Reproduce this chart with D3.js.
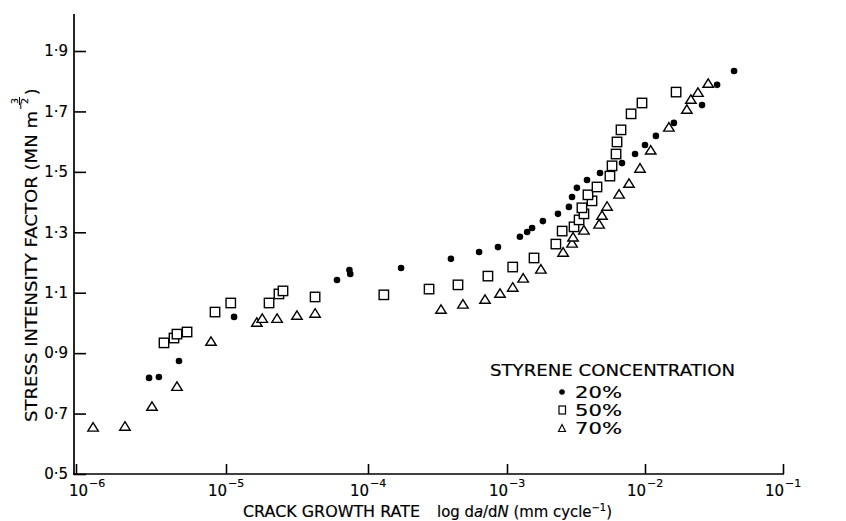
<!DOCTYPE html>
<html>
<head>
<meta charset="utf-8">
<script src="https://cdn.jsdelivr.net/npm/d3@7"></script>
<style>
  body { margin: 0; background: #fff; }
  text { font-family: "DejaVu Sans", sans-serif; fill: #000; stroke: #000; stroke-width: 0.18; }
</style>
</head>
<body>
<div id="chart"></div>
<script>
// crack growth rate da/dN (mm/cycle) and stress intensity factor K (MN m^-3/2)
const rate20 = [3.07e-6, 3.57e-6, 4.86e-6, 1.14e-5, 6.05e-5, 7.4e-5, 7.5e-5, 1.73e-4, 3.95e-4, 6.30e-4, 8.61e-4,
    1.24e-3, 1.40e-3, 1.52e-3, 1.82e-3, 2.34e-3, 2.81e-3, 2.96e-3, 3.21e-3, 3.80e-3, 4.72e-3, 6.81e-3, 8.47e-3,
    1.00e-2, 1.20e-2, 1.62e-2, 2.59e-2, 3.33e-2, 4.42e-2];
const k20 = [0.818, 0.821, 0.874, 1.020, 1.142, 1.175, 1.162, 1.182, 1.212, 1.235, 1.251,
    1.285, 1.301, 1.314, 1.337, 1.361, 1.384, 1.417, 1.447, 1.473, 1.496, 1.529, 1.559,
    1.589, 1.619, 1.662, 1.721, 1.788, 1.834];

const rate50 = [3.86e-6, 4.50e-6, 4.71e-6, 5.50e-6, 8.45e-6, 1.08e-5, 2.01e-5, 2.36e-5, 2.52e-5, 4.24e-5,
    1.30e-4, 2.75e-4, 4.44e-4, 7.29e-4, 1.10e-3, 1.57e-3, 2.26e-3, 2.51e-3, 3.06e-3, 3.33e-3, 3.61e-3,
    3.49e-3, 4.13e-3, 3.86e-3, 4.49e-3, 5.57e-3, 5.77e-3, 6.17e-3, 6.27e-3, 6.70e-3, 7.93e-3, 9.51e-3, 1.68e-2];
const k50 = [0.934, 0.950, 0.963, 0.970, 1.036, 1.066, 1.066, 1.096, 1.106, 1.086,
    1.093, 1.112, 1.126, 1.155, 1.185, 1.215, 1.261, 1.304, 1.318, 1.341, 1.361,
    1.381, 1.404, 1.424, 1.450, 1.486, 1.520, 1.559, 1.599, 1.639, 1.692, 1.728, 1.764];

const rate70 = [1.30e-6, 2.12e-6, 3.21e-6, 4.71e-6, 7.94e-6, 1.65e-5, 1.80e-5, 2.29e-5, 3.16e-5, 4.24e-5,
    3.35e-4, 4.82e-4, 6.95e-4, 8.91e-4, 1.10e-3, 1.31e-3, 1.76e-3, 2.55e-3, 2.96e-3, 3.01e-3, 3.61e-3,
    4.65e-3, 4.88e-3, 5.31e-3, 6.49e-3, 7.66e-3, 9.20e-3, 1.10e-2, 1.49e-2, 2.01e-2, 2.15e-2, 2.42e-2, 2.87e-2];
const k70 = [0.656, 0.659, 0.725, 0.791, 0.940, 1.003, 1.016, 1.016, 1.026, 1.033,
    1.046, 1.063, 1.079, 1.099, 1.119, 1.149, 1.179, 1.235, 1.265, 1.285, 1.308,
    1.328, 1.357, 1.387, 1.427, 1.463, 1.513, 1.573, 1.649, 1.708, 1.741, 1.764, 1.794];

const xTicks = [1e-6, 1e-5, 1e-4, 1e-3, 1e-2, 1e-1];
const xTickExp = ['\u22126', '\u22125', '\u22124', '\u22123', '\u22122', '\u22121'];
const yTicks = [0.5, 0.7, 0.9, 1.1, 1.3, 1.5, 1.7, 1.9];
const legendLabels = ['20%', '50%', '70%'];

const width = 846, height = 521;
const svg = d3.select('#chart').append('svg')
    .attr('width', width)
    .attr('height', height);

// the printed decades are not quite even, so each decade gets its own span
const x = d3.scaleLog()
    .domain(xTicks)
    .range([76, 226, 368, 507, 645, 783]);
const y = d3.scaleLinear()
    .domain([0.5, 1.9])
    .range([474, 51]);

// axis lines
svg.append('line').attr('x1', 74).attr('x2', 74).attr('y1', 14).attr('y2', 474.5)
    .attr('stroke', '#000').attr('stroke-width', 1.7);
svg.append('line').attr('x1', 73).attr('x2', 784).attr('y1', 474).attr('y2', 474)
    .attr('stroke', '#000').attr('stroke-width', 1.7);

const xAxis = svg.append('g')
    .attr('transform', 'translate(0,474)')
    .call(d3.axisBottom(x).tickValues(xTicks).tickFormat('').tickSizeInner(-10).tickSizeOuter(0));
xAxis.select('.domain').remove();
xAxis.selectAll('line').attr('stroke-width', 1.6);

const yAxis = svg.append('g')
    .attr('transform', 'translate(74,0)')
    .call(d3.axisLeft(y).tickValues(yTicks).tickSizeInner(-12).tickSizeOuter(0).tickPadding(6)
        .tickFormat(d => d3.format('.1f')(d).replace('.', '\u00b7')));
yAxis.select('.domain').remove();
yAxis.selectAll('line').attr('stroke-width', 1.6);
yAxis.selectAll('text').attr('font-size', 15).attr('font-family', '"DejaVu Sans", sans-serif');

// x tick labels: 10 with a raised exponent
xTicks.forEach((t, i) => {
    const px = x(t) + (i === 0 ? 12 : 1);
    svg.append('text').attr('x', px).attr('y', 496)
        .attr('text-anchor', 'end').attr('font-size', 15).text('10');
    svg.append('text').attr('x', px + 1).attr('y', 487)
        .attr('font-size', 11).text(xTickExp[i]);
});

// x title
svg.append('text').attr('x', 243).attr('y', 517).attr('font-size', 15)
    .attr('textLength', 177).attr('lengthAdjust', 'spacingAndGlyphs')
    .text('CRACK GROWTH RATE');
const xt = svg.append('text').attr('x', 437).attr('y', 517).attr('font-size', 15)
    .attr('textLength', 175).attr('lengthAdjust', 'spacingAndGlyphs');
xt.append('tspan').text('log d');
xt.append('tspan').attr('font-style', 'italic').text('a');
xt.append('tspan').text('/d');
xt.append('tspan').attr('font-style', 'italic').text('N');
xt.append('tspan').text(' (mm cycle');
xt.append('tspan').attr('font-size', 10).attr('dy', -6).text('\u22121');
xt.append('tspan').attr('dy', 6).text(')');

// y title, rotated
const yt = svg.append('g').attr('transform', 'translate(37,422) rotate(-90)');
yt.append('text').attr('x', 0).attr('y', 0).attr('font-size', 16.5)
    .attr('textLength', 311).attr('lengthAdjust', 'spacingAndGlyphs')
    .text('STRESS INTENSITY FACTOR (MN m');
yt.append('text').attr('x', 312).attr('y', -13).attr('font-size', 10).text('\u2212');
yt.append('text').attr('x', 318).attr('y', -19).attr('font-size', 9.5).text('3');
yt.append('line').attr('x1', 317).attr('x2', 325).attr('y1', -17.5).attr('y2', -17.5)
    .attr('stroke', '#000').attr('stroke-width', 1);
yt.append('text').attr('x', 318).attr('y', -9).attr('font-size', 9.5).text('2');
yt.append('text').attr('x', 327).attr('y', 0).attr('font-size', 16.5).text(')');

// markers
const tri = (w, h) => `M0,${-h / 2}L${w / 2},${h / 2}L${-w / 2},${h / 2}Z`;
const plot = svg.append('g');

plot.selectAll('rect.s50')
    .data(d3.zip(rate50, k50))
    .join('rect')
    .attr('class', 's50')
    .attr('x', d => x(d[0]) - 4.7)
    .attr('y', d => y(d[1]) - 4.7)
    .attr('width', 9.4).attr('height', 9.4)
    .attr('fill', '#fff').attr('stroke', '#000').attr('stroke-width', 1.4);

plot.selectAll('path.s70')
    .data(d3.zip(rate70, k70))
    .join('path')
    .attr('class', 's70')
    .attr('transform', d => `translate(${x(d[0])},${y(d[1])})`)
    .attr('d', tri(10.5, 8.5))
    .attr('fill', '#fff').attr('stroke', '#000').attr('stroke-width', 1.4)
    .attr('stroke-linejoin', 'miter');

plot.selectAll('circle.s20')
    .data(d3.zip(rate20, k20))
    .join('circle')
    .attr('class', 's20')
    .attr('cx', d => x(d[0]))
    .attr('cy', d => y(d[1]))
    .attr('r', 3.3)
    .attr('fill', '#000');

// legend
svg.append('text').attr('x', 490).attr('y', 376).attr('font-size', 16.5)
    .attr('textLength', 245).attr('lengthAdjust', 'spacingAndGlyphs')
    .text('STYRENE CONCENTRATION');
const lg = svg.append('g');
const rowY = [392, 410, 428];
lg.append('circle').attr('cx', 562).attr('cy', rowY[0]).attr('r', 2.8).attr('fill', '#000');
lg.append('rect').attr('x', 559).attr('y', rowY[1] - 4).attr('width', 6.5).attr('height', 8)
    .attr('fill', '#fff').attr('stroke', '#000').attr('stroke-width', 1.2);
lg.append('path').attr('transform', `translate(562,${rowY[2]})`).attr('d', tri(7, 7))
    .attr('fill', '#fff').attr('stroke', '#000').attr('stroke-width', 1.2);
legendLabels.forEach((l, i) => {
    lg.append('text').attr('x', 575).attr('y', rowY[i] + 5.5).attr('font-size', 16)
        .attr('textLength', 47).attr('lengthAdjust', 'spacingAndGlyphs').text(l);
});
</script>
</body>
</html>
